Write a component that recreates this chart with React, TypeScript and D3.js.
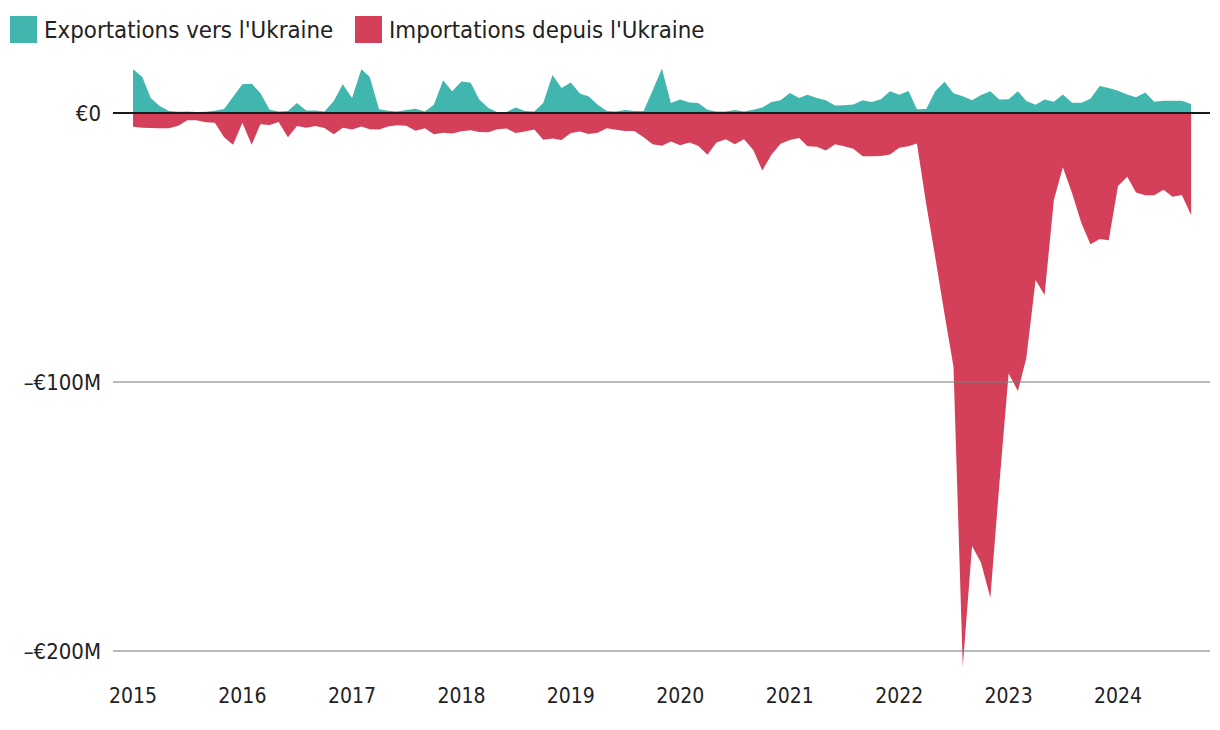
import { useMemo } from 'react'
import * as d3 from 'd3'

// monthly values, millions of euros, Jan 2015 -> Sep 2024
const exportsM = [
  16.3, 13.4, 5.6, 2.5, 0.7, 0.5, 0.6, 0.4, 0.5, 0.8, 1.5, 6.0,
  10.7, 10.9, 7.4, 1.2, 0.6, 0.7, 3.7, 0.9, 0.9, 0.6, 4.5, 10.7,
  5.6, 16.3, 13.4, 1.4, 0.8, 0.6, 1.1, 1.6, 0.6, 3.1, 12.2, 8.1,
  11.7, 11.2, 5.1, 1.9, 0.3, 0.4, 2.0, 0.7, 0.6, 3.7, 14.1, 9.3,
  11.3, 7.2, 6.2, 3.1, 0.7, 0.6, 1.1, 0.7, 0.7, 8.4, 16.5, 3.7,
  5.0, 3.9, 3.7, 1.2, 0.6, 0.6, 1.1, 0.6, 1.2, 2.0, 4.1, 4.7,
  7.4, 5.6, 6.8, 5.6, 4.7, 2.8, 2.9, 3.2, 4.7, 4.1, 5.1, 8.1,
  6.8, 8.2, 1.4, 1.5, 8.1, 11.6, 7.3, 6.2, 4.7, 6.7, 8.1, 5.0,
  5.1, 8.1, 4.5, 3.1, 5.0, 4.2, 6.9, 3.8, 3.8, 5.3, 10.0, 9.3,
  8.3, 6.9, 5.9, 7.6, 4.2, 4.6, 4.6, 4.6, 3.3,
]

const importsM = [
  5.1, 5.5, 5.6, 5.7, 5.7, 4.7, 2.7, 2.7, 3.4, 3.6, 9.0, 11.8,
  3.6, 11.8, 4.2, 4.5, 3.3, 9.0, 4.8, 5.5, 4.8, 5.6, 7.9, 5.5,
  6.1, 5.0, 6.0, 6.1, 5.0, 4.6, 4.7, 6.6, 5.7, 7.9, 7.3, 7.6,
  6.8, 6.4, 7.1, 7.2, 6.0, 5.8, 7.4, 6.9, 6.1, 9.9, 9.5, 10.0,
  7.4, 6.9, 7.8, 7.3, 5.7, 6.2, 6.7, 6.7, 9.0, 11.6, 12.2, 10.6,
  12.0, 11.0, 12.2, 15.5, 11.0, 9.8, 11.6, 9.8, 13.8, 21.4, 15.4, 11.4,
  10.0, 9.3, 12.4, 12.5, 13.9, 11.6, 12.4, 13.3, 16.1, 16.1, 16.0, 15.4,
  12.9, 12.4, 11.3, 33.8, 53.5, 74.7, 94.3, 205.8, 161.0, 167.2, 180.2, 138.0,
  96.8, 103.3, 91.2, 62.1, 67.7, 32.3, 20.2, 29.9, 41.0, 48.8, 46.8, 47.3,
  27.1, 23.7, 29.6, 30.6, 30.6, 28.5, 31.1, 30.5, 37.9,
]

const years = [2015, 2016, 2017, 2018, 2019, 2020, 2021, 2022, 2023, 2024]
const yTicks = [0, -100, -200]
const yTickLabels = ['€0', '–€100M', '–€200M']
const seriesNames = ["Exportations vers l'Ukraine", "Importations depuis l'Ukraine"]
const colors = ['#41b6ae', '#d4405a']

const W = 1220
const H = 730
const FONT = "'DejaVu Sans Condensed', 'Liberation Sans Narrow', sans-serif"

export default function App() {
  const dates = useMemo(() => exportsM.map((_, i) => new Date(2015, i, 1)), [])

  const x = d3.scaleTime()
    .domain([new Date(2015, 0, 1), new Date(2024, 0, 1)])
    .range([133, 1118])
  const y = d3.scaleLinear().domain([0, -200]).range([113, 651])

  const expArea = d3.area<number>()
    .x((_, i) => x(dates[i]))
    .y0(y(0))
    .y1(d => y(d))
  const impArea = d3.area<number>()
    .x((_, i) => x(dates[i]))
    .y0(y(0))
    .y1(d => y(-d))

  return (
    <svg width={W} height={H} style={{ position: 'absolute', left: 0, top: 0 }}
      fontFamily={FONT}>
      <rect width={W} height={H} fill="white" />
      {/* legend */}
      <rect x={10} y={16} width={27} height={27} fill={colors[0]} />
      <text x={44} y={38} fontSize={23.8} fill="#222">{seriesNames[0]}</text>
      <rect x={355} y={16} width={27} height={27} fill={colors[1]} />
      <text x={389} y={38} fontSize={23.8} fill="#222">{seriesNames[1]}</text>

      <path d={expArea(exportsM) || ''} fill={colors[0]} />
      <path d={impArea(importsM) || ''} fill={colors[1]} />

      {yTicks.map((t, i) => (
        <g key={t}>
          <line x1={113} x2={1210} y1={y(t)} y2={y(t)}
            stroke={t === 0 ? '#1a1a1a' : '#7a7a80'}
            strokeOpacity={t === 0 ? 1 : 0.7}
            strokeWidth={t === 0 ? 2 : 1.5} />
          <text x={101} y={y(t)} dy="0.35em" textAnchor="end" fontSize={22} fill="#222">
            {yTickLabels[i]}
          </text>
        </g>
      ))}

      {years.map(yr => (
        <text key={yr} x={x(new Date(yr, 0, 1))} y={703} textAnchor="middle"
          fontSize={21} fill="#222">{yr}</text>
      ))}
    </svg>
  )
}
